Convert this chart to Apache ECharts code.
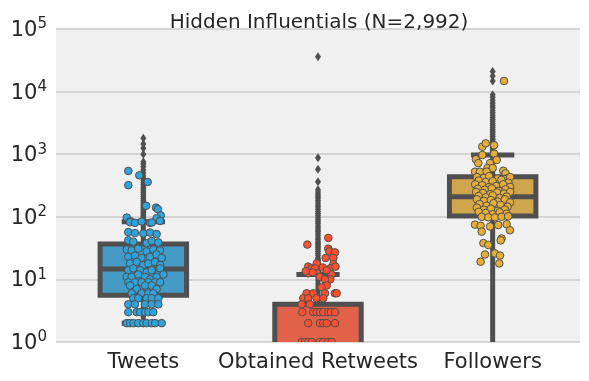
<!DOCTYPE html>
<html><head><meta charset="utf-8">
<script src="https://cdn.jsdelivr.net/npm/echarts@6/dist/echarts.min.js"></script>
<style>html,body{margin:0;padding:0;background:#fff}#c{width:589px;height:381px}</style>
</head><body><div id="c"></div>
<script>
const categories = ['Tweets', 'Obtained Retweets', 'Followers'];
const yTickValues = [1, 10, 100, 1000, 10000, 100000];

// box stats: [lowerWhisker, q1, median, q3, upperWhisker]  (0 = below the log axis)
const tweetsBox = [2, 5.6, 14.7, 36.7, 83];
const retweetsBox = [0, 0, 0, 4, 12];
const followersBox = [0, 103, 210, 437, 970];

// outliers (diamonds)
const tweetsOutliers = [90, 95, 100, 106, 112, 118, 125, 133, 141, 150, 160, 170, 182, 195, 210, 225, 242, 260, 280, 300, 325, 350, 380, 410, 450, 500, 560, 630, 700, 760, 1000, 1240, 1460, 1800];
const retweetsOutliers = [13, 14, 15, 16, 17, 18, 19, 20, 21, 22, 24, 26, 28, 30, 32, 34, 36, 38, 40, 43, 46, 50, 54, 58, 62, 67, 72, 78, 84, 90, 97, 105, 113, 122, 132, 143, 155, 168, 182, 197, 213, 230, 250, 270, 362, 575, 880, 36000];
const followersOutliers = [1000, 1050, 1100, 1160, 1220, 1290, 1360, 1440, 1520, 1610, 1700, 1800, 1920, 2050, 2200, 2350, 2500, 2700, 2900, 3100, 3350, 3600, 3900, 4200, 4600, 5000, 5500, 6000, 6600, 7300, 8100, 8900, 14800, 17700, 21000];

// strip points: [jitter (category units), value]
const tweetsPoints = [
  [-.086, 540], [-.086, 320], [-.023, 460], [.025, 360], [.016, 150], [.073, 140], [.084, 132], [.1, 105], [-.095, 97], [-.073, 85], [.076, 95], [.038, 80],
  [-.076, 82], [-.048, 80], [-.01, 84], [.048, 81], [.096, 86],
  [-.086, 57], [-.048, 55], [0, 54], [.038, 56], [.076, 53],
  [-.086, 42], [-.057, 40], [.019, 38], [.048, 41], [.086, 39],
  [-.095, 30], [-.067, 29], [-.029, 31], [.019, 28], [.057, 30], [.096, 29],
  [-.086, 23], [-.048, 24], [-.01, 22], [.038, 23], [.076, 25], [.105, 22],
  [-.076, 18], [-.038, 19], [0, 17], [.029, 18], [.067, 19], [.096, 17],
  [-.086, 14], [-.057, 15], [-.019, 14], [.019, 13], [.048, 14], [.096, 15],
  [-.095, 11], [-.067, 11], [-.029, 12], [.01, 11], [.038, 10], [.076, 11], [.115, 12],
  [-.086, 9], [-.048, 9], [-.01, 9], [.029, 9], [.067, 9], [.096, 9],
  [-.076, 8], [-.038, 7], [.01, 8], [.048, 8], [.076, 7],
  [-.067, 6], [-.01, 6], [.029, 6], [.057, 6],
  [-.057, 5], [-.029, 5], [.019, 5], [.048, 5], [.086, 5],
  [-.086, 4], [-.048, 4], [.01, 4], [.048, 4], [.086, 4],
  [-.086, 3], [-.038, 3], [-.019, 3], [.01, 3], [.029, 3], [.057, 3],
  [-.095, 2], [-.076, 2], [-.057, 2], [-.029, 2], [0, 2], [.019, 2], [.048, 2], [.067, 2], [.105, 2]
];
const retweetsPoints = [
  [.059, 46], [-.061, 36], [.059, 31], [.065, 28], [.097, 27], [.044, 22], [.088, 22],
  [-.056, 16], [-.036, 15], [-.007, 18], [-.017, 15], [.027, 15.5], [.088, 17.5], [.069, 15], [-.004, 12.5], [.078, 12], [-.056, 12.5],
  [-.03, 13], [.05, 14], [.01, 11], [.07, 10], [-.07, 13.5], [.1, 16],
  [.04, 10], [.05, 8], [.021, 7.5], [.097, 6],
  [-.065, 6], [-.027, 6], [.04, 6], [.107, 6],
  [-.084, 5], [-.056, 5], [-.008, 5], [.03, 5],
  [-.093, 4], [-.046, 4],
  [-.09, 3], [-.027, 3], [-.008, 3], [.011, 3], [.03, 3], [.059, 3], [.074, 3], [.097, 3],
  [-.056, 2], [.011, 2], [.03, 2], [.05, 2], [.097, 2],
  [-.093, 1], [-.074, 1], [-.056, 1], [-.036, 1], [.011, 1], [.03, 1], [.059, 1], [.078, 1]
];
const followersPoints = [
  [.065, 14800], [-.059, 1320], [-.04, 1490], [.008, 1390], [-.059, 970], [-.096, 830], [-.082, 720], [.008, 1020], [.023, 810], [-.015, 720],
  [-.03, 600], [0, 600], [-.101, 525], [-.073, 525], [-.034, 525], [.061, 545], [.074, 495], [.08, 410], [.065, 365], [-.073, 380], [-.044, 330], [.004, 330], [.034, 350],
  [-.09, 430], [-.05, 420], [-.02, 445], [.03, 410], [.07, 400], [.1, 430],
  [-.08, 380], [-.04, 360], [0, 370], [.05, 390], [.09, 350],
  [-.1, 330], [-.06, 320], [-.02, 300], [.02, 310], [.06, 330], [.1, 300],
  [-.085, 280], [-.045, 270], [-.005, 285], [.035, 260], [.075, 275],
  [-.095, 250], [-.055, 240], [-.015, 230], [.025, 245], [.065, 235], [.1, 250],
  [-.08, 215], [-.04, 205], [0, 220], [.04, 200], [.08, 210],
  [-.09, 190], [-.05, 180], [-.01, 185], [.03, 175], [.07, 190], [.1, 170],
  [-.075, 160], [-.035, 150], [.005, 165], [.045, 155], [.085, 145],
  [-.09, 140], [-.05, 130], [-.01, 135], [.03, 125], [.07, 130],
  [-.08, 120], [-.04, 115], [0, 110], [.04, 118], [.08, 112],
  [-.063, 100], [-.025, 98], [.013, 98], [.051, 100], [.089, 102],
  [-.101, 75], [-.069, 72], [-.015, 70], [.032, 74], [.08, 76],
  [.099, 61], [-.063, 58], [.051, 45], [.046, 42], [-.053, 38], [-.025, 35.5],
  [-.044, 25], [.013, 26], [.042, 24], [-.069, 19.2], [.038, 18]
];

const boxFill = ['#459bc5', '#e26149', '#cfa64e'];
const pointFill = ['#30a2da', '#fc4f30', '#e5ae38'];
const LINE = '#4f4f4f';
const FONT = 'DejaVu Sans';

const boxStats = [tweetsBox, retweetsBox, followersBox];
const outliers = [tweetsOutliers, retweetsOutliers, followersOutliers];
const points = [tweetsPoints, retweetsPoints, followersPoints];

const chart = echarts.init(document.getElementById('c'), null, {renderer: 'canvas'});

function yPx(api, v) { return api.coord([0, Math.max(v, 1e-3)])[1]; }

const series = [];
series.push({
  type: 'custom', xAxisIndex: 1, clip: true, z: 2,
  data: categories.map((c, i) => [i, boxStats[i][3]]),
  renderItem: function (params, api) {
    const i = params.dataIndex;
    const s = boxStats[i];
    const x = api.coord([i, 1])[0];
    const unit = api.size([1, 0])[0];
    const hw = unit * 0.495 / 2;
    const cw = hw / 2;
    const yl = yPx(api, s[0]), y1 = yPx(api, s[1]), ym = yPx(api, s[2]), y3 = yPx(api, s[3]), yh = yPx(api, s[4]);
    const ls = {stroke: LINE, lineWidth: 5};
    return {type: 'group', children: [
      {type: 'line', shape: {x1: x, y1: yl, x2: x, y2: y1}, style: ls},
      {type: 'line', shape: {x1: x, y1: y3, x2: x, y2: yh}, style: ls},
      {type: 'line', shape: {x1: x - cw, y1: yl, x2: x + cw, y2: yl}, style: ls},
      {type: 'line', shape: {x1: x - cw, y1: yh, x2: x + cw, y2: yh}, style: ls},
      {type: 'rect', shape: {x: x - hw, y: y3, width: 2 * hw, height: y1 - y3}, style: {fill: boxFill[i], stroke: LINE, lineWidth: 5, lineJoin: 'miter'}},
      {type: 'line', shape: {x1: x - hw, y1: ym, x2: x + hw, y2: ym}, style: ls}
    ]};
  }
});
categories.forEach((c, i) => {
  series.push({
    type: 'custom', xAxisIndex: 1, clip: true, z: 3,
    data: outliers[i].map(v => [i, v]),
    renderItem: function (params, api) {
      const p = api.coord([api.value(0), api.value(1)]);
      return {type: 'polygon', shape: {points: [[p[0], p[1] - 4.5], [p[0] + 3, p[1]], [p[0], p[1] + 4.5], [p[0] - 3, p[1]]]}, style: {fill: LINE}};
    }
  });
});
categories.forEach((c, i) => {
  series.push({
    type: 'custom', xAxisIndex: 1, clip: true, z: 4,
    data: points[i].map(p => [i + p[0], p[1]]),
    renderItem: function (params, api) {
      const p = api.coord([api.value(0), api.value(1)]);
      return {type: 'circle', shape: {cx: p[0], cy: p[1], r: 3.8}, style: {fill: pointFill[i], stroke: LINE, lineWidth: 1}};
    }
  });
});

chart.setOption({
  animation: false,
  backgroundColor: '#ffffff',
  title: {
    text: 'Hidden Influentials (N=2,992)',
    left: 314, top: 8, textAlign: 'center',
    textStyle: {fontFamily: FONT, fontSize: 20, fontWeight: 'normal', color: '#262626'}
  },
  grid: {left: 56, right: 9, top: 29, bottom: 39, show: true, backgroundColor: '#f0f0f0', borderWidth: 0},
  xAxis: [
    {type: 'category', data: categories, axisLine: {show: false}, axisTick: {show: false}, splitLine: {show: false},
     axisLabel: {fontFamily: FONT, fontSize: 21, color: '#262626', margin: 10, interval: 0, hideOverlap: false}},
    {type: 'value', min: -0.5, max: 2.5, show: false, splitLine: {show: false}}
  ],
  yAxis: {
    type: 'log', logBase: 10, min: yTickValues[0], max: yTickValues[yTickValues.length - 1],
    axisLine: {show: false}, axisTick: {show: false},
    splitLine: {show: true, lineStyle: {color: '#cbcbcb', width: 1.5}},
    axisLabel: {
      margin: 9,
      formatter: function (v) { return '{b|10}{s|' + Math.round(Math.log10(v)) + '}'; },
      rich: {
        b: {fontFamily: FONT, fontSize: 21, color: '#262626', lineHeight: 24, verticalAlign: 'bottom'},
        s: {fontFamily: FONT, fontSize: 15, color: '#262626', lineHeight: 15, verticalAlign: 'top'}
      }
    }
  },
  series: series
});
</script></body></html>
